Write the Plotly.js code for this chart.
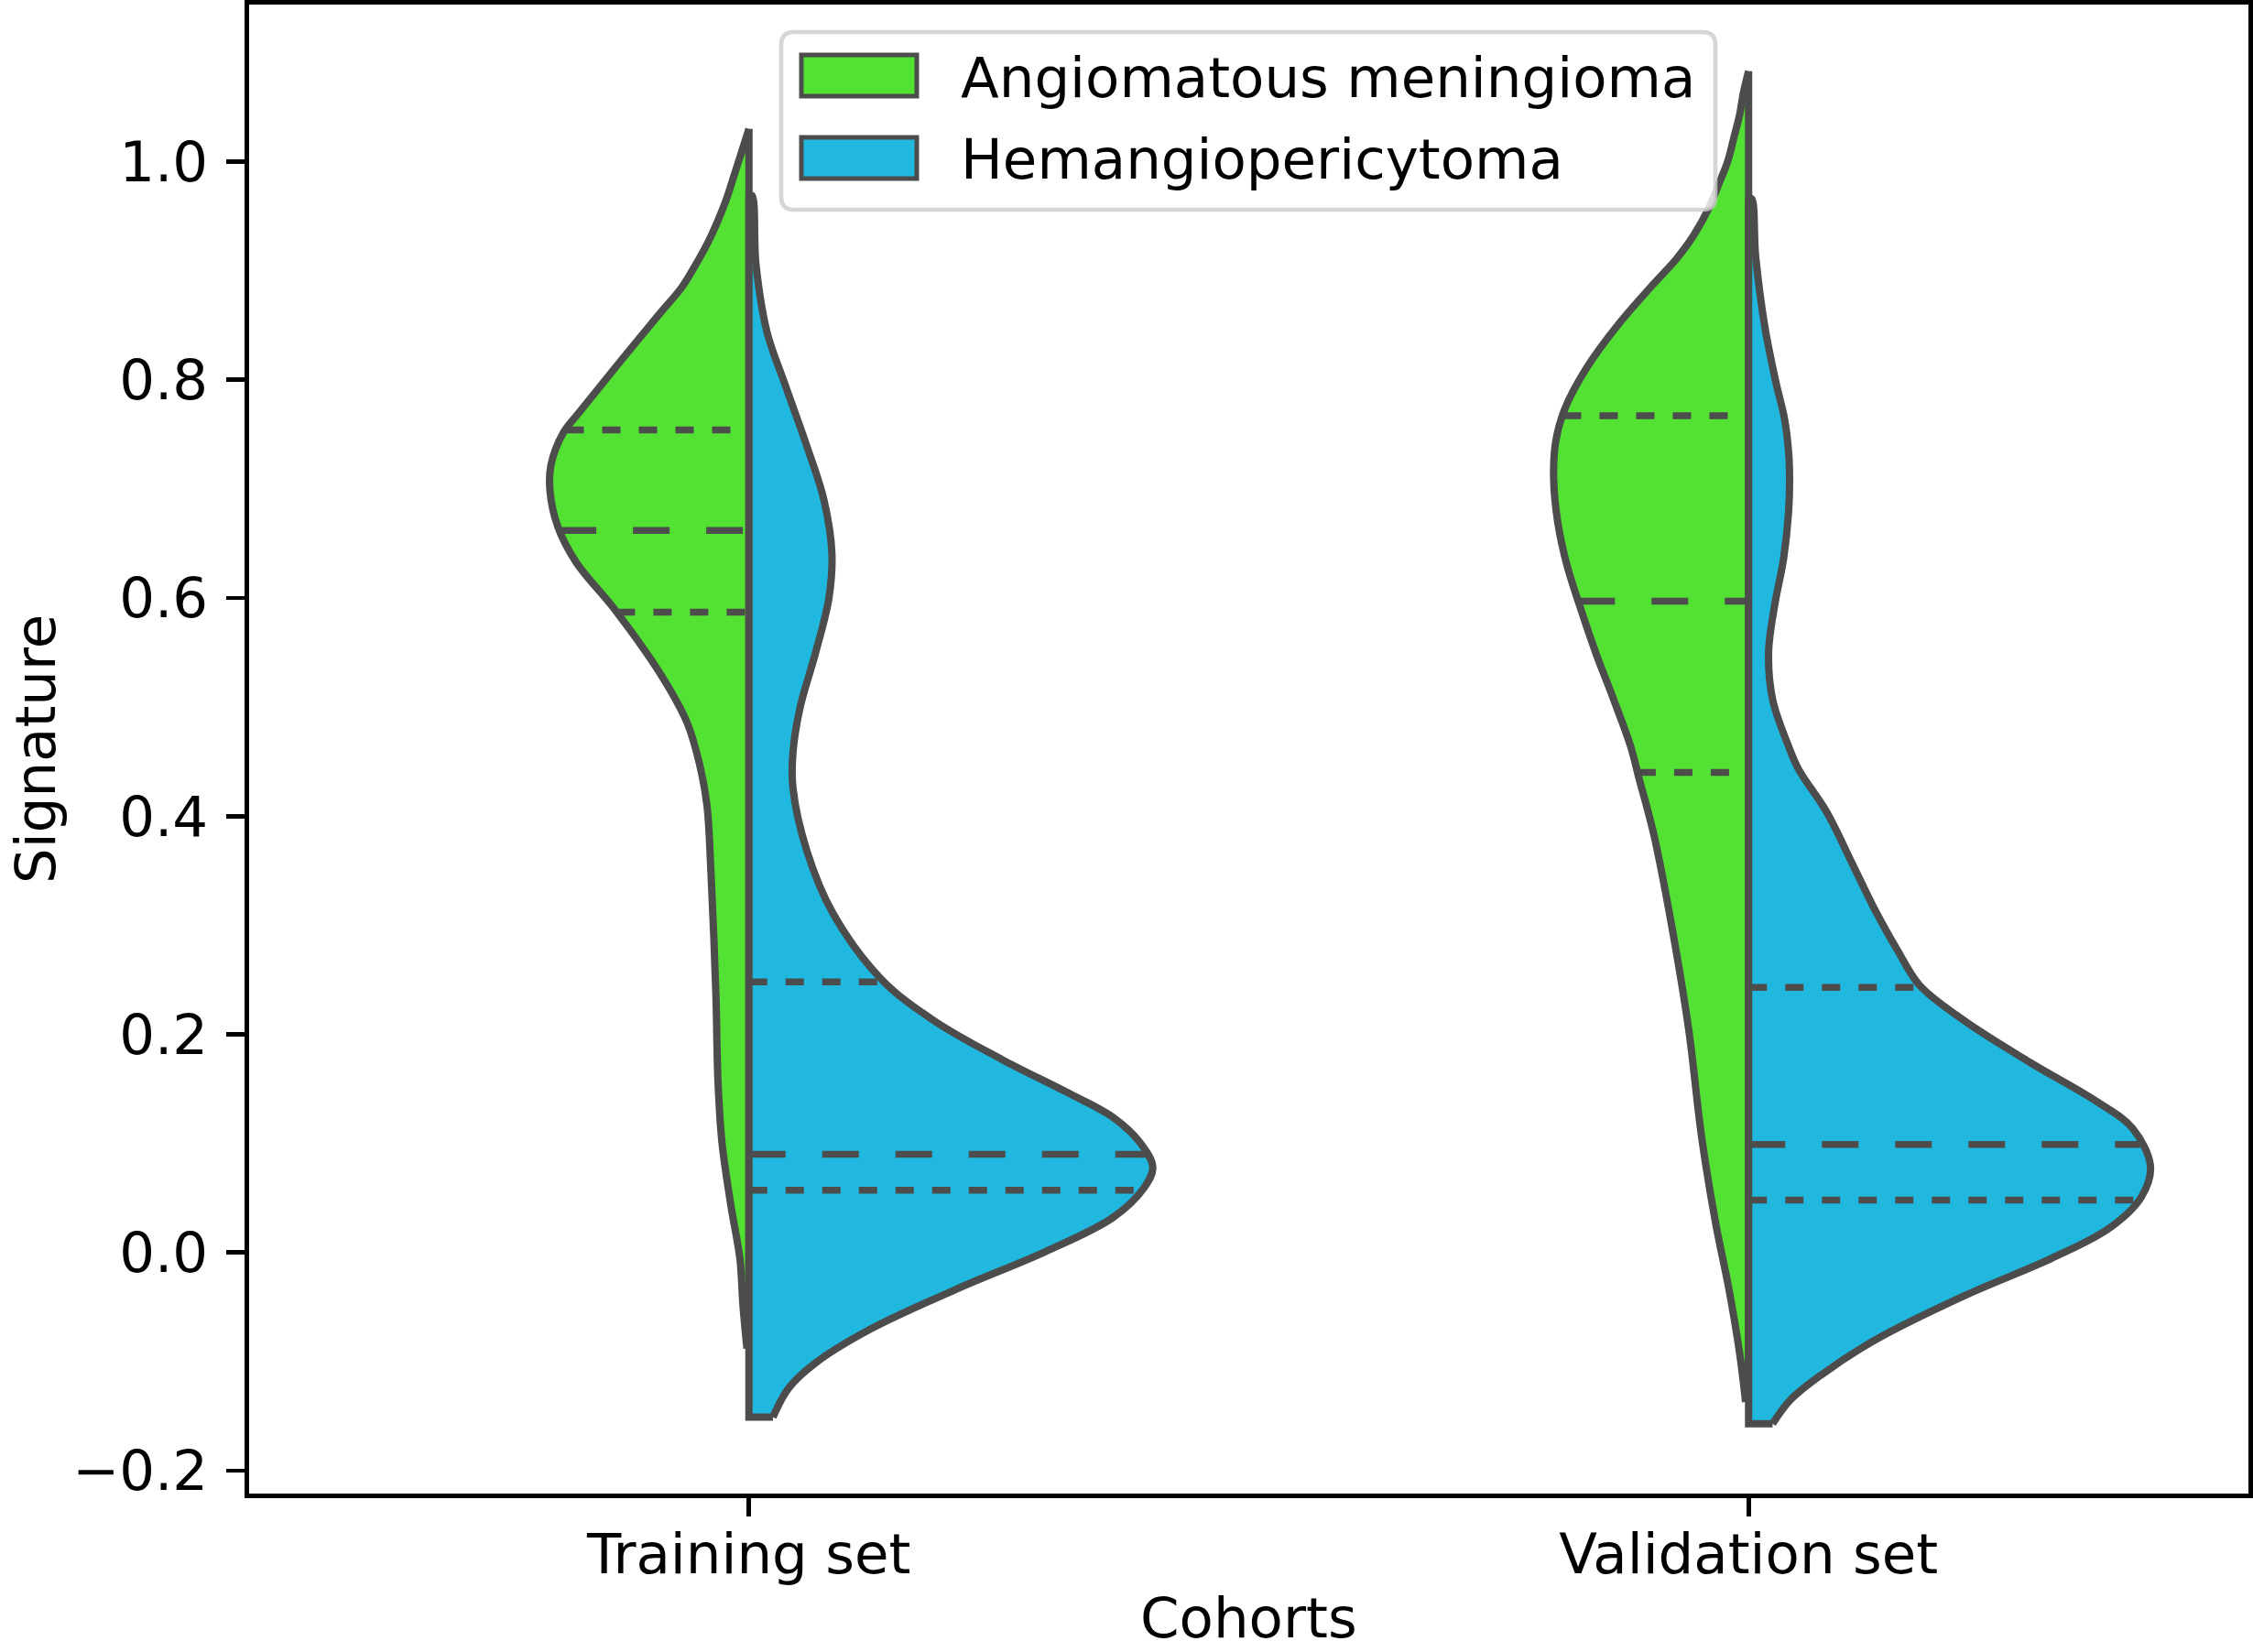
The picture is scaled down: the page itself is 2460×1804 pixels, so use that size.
<!DOCTYPE html>
<html>
<head>
<meta charset="utf-8">
<script src="https://cdn.plot.ly/plotly-3.0.1.min.js"></script>
<style>html,body{margin:0;padding:0;background:#fff;}</style>
</head>
<body>
<div id="chart"></div>
<script>
// ---------------- data ----------------
const cohorts = ["Training set", "Validation set"];
const groups = ["Angiomatous meningioma", "Hemangiopericytoma"];
const xTitle = "Cohorts";
const yTitle = "Signature";
const yTicks = [-0.2, 0.0, 0.2, 0.4, 0.6, 0.8, 1.0];

// density contour (signature value, half-width in category units)
const trainAngY = [1.030, 1.007, 0.987, 0.967, 0.946, 0.926, 0.906, 0.885, 0.861, 0.812, 0.771, 0.751, 0.722, 0.698, 0.665, 0.633, 0.588, 0.531, 0.486, 0.446, 0.410, 0.349, 0.235, 0.158, 0.101, 0.043, -0.006, -0.048, -0.088];
const trainAngW = [0.000, 0.008, 0.015, 0.022, 0.031, 0.041, 0.053, 0.067, 0.089, 0.133, 0.169, 0.186, 0.198, 0.199, 0.191, 0.173, 0.133, 0.089, 0.062, 0.049, 0.042, 0.038, 0.033, 0.031, 0.027, 0.018, 0.009, 0.006, 0.002];

const trainHemY = [0.969, 0.906, 0.844, 0.796, 0.739, 0.690, 0.641, 0.600, 0.551, 0.499, 0.458, 0.426, 0.368, 0.311, 0.250, 0.212, 0.177, 0.146, 0.124, 0.101, 0.078, 0.059, 0.032, 0.001, -0.033, -0.071, -0.101, -0.124, -0.151];
const trainHemW = [0.003, 0.007, 0.018, 0.036, 0.058, 0.075, 0.083, 0.080, 0.067, 0.051, 0.044, 0.044, 0.058, 0.084, 0.133, 0.186, 0.253, 0.320, 0.364, 0.391, 0.404, 0.395, 0.364, 0.297, 0.209, 0.120, 0.067, 0.040, 0.024];

const valAngY = [1.083, 1.064, 1.043, 1.021, 1.000, 0.979, 0.957, 0.931, 0.910, 0.888, 0.850, 0.811, 0.773, 0.743, 0.709, 0.670, 0.631, 0.593, 0.550, 0.507, 0.464, 0.436, 0.384, 0.305, 0.205, 0.106, 0.027, -0.032, -0.092, -0.137];
const valAngW = [0.000, 0.005, 0.009, 0.015, 0.021, 0.030, 0.040, 0.056, 0.073, 0.095, 0.131, 0.162, 0.184, 0.193, 0.195, 0.191, 0.182, 0.169, 0.153, 0.135, 0.118, 0.110, 0.095, 0.078, 0.060, 0.047, 0.033, 0.020, 0.009, 0.003];

const valHemY = [0.966, 0.914, 0.850, 0.799, 0.764, 0.734, 0.709, 0.679, 0.636, 0.593, 0.550, 0.507, 0.464, 0.443, 0.404, 0.356, 0.313, 0.277, 0.245, 0.213, 0.174, 0.138, 0.114, 0.079, 0.051, 0.023, -0.005, -0.040, -0.080, -0.112, -0.135, -0.157];
const valHemW = [0.003, 0.007, 0.016, 0.027, 0.036, 0.040, 0.041, 0.040, 0.035, 0.026, 0.020, 0.024, 0.040, 0.050, 0.078, 0.104, 0.127, 0.149, 0.171, 0.215, 0.282, 0.349, 0.384, 0.402, 0.393, 0.362, 0.304, 0.215, 0.127, 0.073, 0.042, 0.024];

// quartiles [Q1, median, Q3]
const trainAngQ = [0.587, 0.662, 0.754];
const trainHemQ = [0.057, 0.090, 0.248];
const valAngQ = [0.440, 0.597, 0.767];
const valHemQ = [0.048, 0.099, 0.243];

// ---------------- styling ----------------
const GREEN = "#53E233", BLUE = "#21B8DF", EDGE = "#4c4c4c";
const LW = 8;
const QLW = 7.5;
const FONT = "DejaVu Sans";
const FS = 61;
const W = 2460, H = 1804, L = 272, R = 2455, T = 5, B = 1631;

function halfViolin(center, side, ys, ws, color) {
  // side: -1 left, +1 right
  const n = ys.length;
  const xb = center + side * ws[n - 1];
  // straight centre edge + flat bottom (linear, invisible, used as fill partner)
  const base = {
    type: "scatter", mode: "lines", x: [center, center, xb], y: [ys[0], ys[n - 1], ys[n - 1]],
    line: { width: 0, color: "rgba(0,0,0,0)" }, hoverinfo: "skip", showlegend: false
  };
  // smooth density outline
  const xs = [center], yy = [ys[0]];
  for (let i = 0; i < n; i++) { xs.push(center + side * ws[i]); yy.push(ys[i]); }
  const curve = {
    type: "scatter", mode: "lines", x: xs, y: yy, fill: "tonextx", fillcolor: color,
    line: { color: EDGE, width: LW, shape: "spline", smoothing: 1 },
    hoverinfo: "skip", showlegend: false
  };
  // stroke of the centre edge + bottom
  const edge = {
    type: "scatter", mode: "lines", x: [xb, center, center], y: [ys[n - 1], ys[n - 1], ys[0]],
    line: { color: EDGE, width: LW }, hoverinfo: "skip", showlegend: false
  };
  return [base, curve, edge];
}
function widthAt(ys, ws, y) {
  for (let i = 0; i < ys.length - 1; i++) {
    if (ys[i] >= y && y >= ys[i + 1]) {
      const t = (ys[i] - y) / (ys[i] - ys[i + 1]);
      return ws[i] + t * (ws[i + 1] - ws[i]);
    }
  }
  return 0;
}
function quartileLines(center, side, ys, ws, qs) {
  const out = [];
  qs.forEach((q, k) => {
    const w = widthAt(ys, ws, q);
    const x0 = side < 0 ? center - w : center;
    const x1 = side < 0 ? center : center + w;
    out.push({
      type: "scatter", mode: "lines", x: [x0, x1], y: [q, q],
      line: { color: EDGE, width: QLW, dash: k === 1 ? "40px,40px" : "20px,20px" },
      hoverinfo: "skip", showlegend: false
    });
  });
  return out;
}

const traces = [];
traces.push(...halfViolin(0, -1, trainAngY, trainAngW, GREEN));
traces.push(...quartileLines(0, -1, trainAngY, trainAngW, trainAngQ));
traces.push(...halfViolin(0, 1, trainHemY, trainHemW, BLUE));
traces.push(...quartileLines(0, 1, trainHemY, trainHemW, trainHemQ));
traces.push(...halfViolin(1, -1, valAngY, valAngW, GREEN));
traces.push(...quartileLines(1, -1, valAngY, valAngW, valAngQ));
traces.push(...halfViolin(1, 1, valHemY, valHemW, BLUE));
traces.push(...quartileLines(1, 1, valHemY, valHemW, valHemQ));

// ---------------- legend (drawn as shapes + text) ----------------
const px = x => (x - L) / (R - L);
const py = y => (B - y) / (B - T);
function roundRect(x0, y0, x1, y1, r) {
  return "M" + px(x0 + r) + "," + py(y0) +
    " L" + px(x1 - r) + "," + py(y0) + " Q" + px(x1) + "," + py(y0) + " " + px(x1) + "," + py(y0 + r) +
    " L" + px(x1) + "," + py(y1 - r) + " Q" + px(x1) + "," + py(y1) + " " + px(x1 - r) + "," + py(y1) +
    " L" + px(x0 + r) + "," + py(y1) + " Q" + px(x0) + "," + py(y1) + " " + px(x0) + "," + py(y1 - r) +
    " L" + px(x0) + "," + py(y0 + r) + " Q" + px(x0) + "," + py(y0) + " " + px(x0 + r) + "," + py(y0) + " Z";
}
const shapes = [
  { type: "path", xref: "paper", yref: "paper", path: roundRect(853, 35, 1873, 229, 14),
    fillcolor: "rgba(255,255,255,0.8)", line: { color: "rgba(204,204,204,0.8)", width: 4.6 }, layer: "above" },
  { type: "rect", xref: "paper", yref: "paper", x0: px(875), x1: px(1001), y0: py(60), y1: py(105),
    fillcolor: GREEN, line: { color: EDGE, width: 5 }, layer: "above" },
  { type: "rect", xref: "paper", yref: "paper", x0: px(875), x1: px(1001), y0: py(150), y1: py(195),
    fillcolor: BLUE, line: { color: EDGE, width: 5 }, layer: "above" }
];
const tf = { family: FONT, size: FS, color: "#000" };
const annotations = [
  { xref: "paper", yref: "paper", x: px(1047), y: py(84), xanchor: "left", yanchor: "middle",
    text: groups[0], showarrow: false, font: tf },
  { xref: "paper", yref: "paper", x: px(1047), y: py(173), xanchor: "left", yanchor: "middle",
    text: groups[1], showarrow: false, font: tf },
  // axis titles
  { xref: "paper", yref: "paper", x: 0.5, y: py(1766), xanchor: "center", yanchor: "middle",
    text: xTitle, showarrow: false, font: tf, borderpad: 0 },
  { xref: "paper", yref: "paper", x: px(38), y: 0.5, xanchor: "center", yanchor: "middle",
    text: yTitle, textangle: -90, showarrow: false, font: tf, borderpad: 0 }
];

const axisCommon = {
  showgrid: false, zeroline: false, showline: true, mirror: true,
  linecolor: "#000", linewidth: 4.6, ticks: "outside", ticklen: 20, tickwidth: 4.6, tickcolor: "#000",
  tickfont: tf
};

const layout = {
  width: W, height: H,
  margin: { l: L, r: W - R, t: T, b: H - B, pad: 0 },
  paper_bgcolor: "#fff", plot_bgcolor: "#fff",
  showlegend: false,
  font: tf,
  xaxis: Object.assign({}, axisCommon, {
    range: [-0.5, 1.5], tickmode: "array", tickvals: [0, 1], ticktext: cohorts,
    ticklabelstandoff: -11
  }),
  yaxis: Object.assign({}, axisCommon, {
    range: [-0.221, 1.144], tickmode: "array", tickvals: yTicks, tickformat: ".1f",
    ticklabelstandoff: 8
  }),
  shapes: shapes,
  annotations: annotations
};

Plotly.newPlot("chart", traces, layout, { staticPlot: true, displayModeBar: false });
</script>
</body>
</html>
